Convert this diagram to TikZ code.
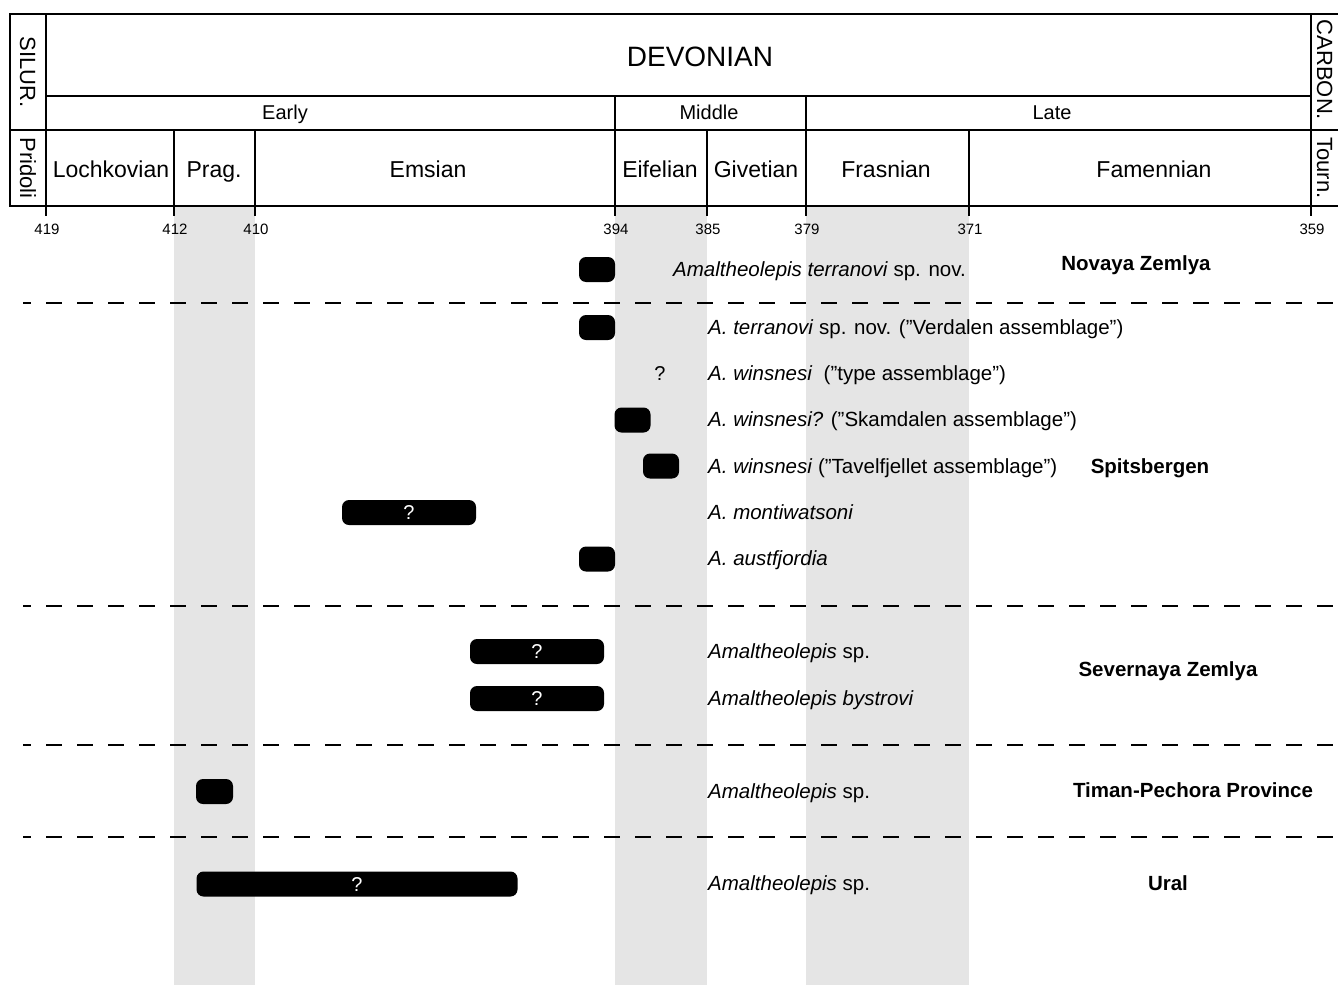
\documentclass[tikz,border=0pt]{standalone}
\usepackage{fontspec}
\setmainfont{Liberation Sans}
\begin{document}
\begin{tikzpicture}[
        x=1pt, y=-1pt,
        frame/.style={line width=2.6pt},
        band/.style={fill=gray!20, draw=none},
        stage/.style={font=\fontsize{23}{26}\selectfont, inner sep=0pt, text height=16.5pt, text depth=0pt},
        period/.style={font=\fontsize{28}{32}\selectfont, inner sep=0pt, text height=20pt, text depth=0pt},
        epoch/.style={font=\fontsize{20}{23}\selectfont, inner sep=0pt, text height=14.3pt, text depth=0pt},
        sidelabel/.style={font=\fontsize{22}{25}\selectfont, rotate=-90, inner sep=0pt, text height=15.8pt, text depth=0pt},
        agelabel/.style={font=\fontsize{15}{17}\selectfont, inner sep=0pt, text height=10.7pt, text depth=0pt},
        taxon/.style={font=\fontsize{20.5}{23}\selectfont, anchor=west, inner sep=0pt, text height=14.7pt, text depth=0pt},
        region/.style={font=\fontsize{20.5}{23}\selectfont\bfseries, inner sep=0pt, text height=14.7pt, text depth=0pt},
        rangebar/.style={rectangle, fill=black, rounded corners=7pt, minimum height=25pt, inner sep=0pt, text=white, font=\fontsize{20}{23}\selectfont, text height=14.3pt, text depth=0pt},
        divider/.style={line width=2.8pt, dash pattern=on 16pt off 15pt, dash phase=8pt}
    ]
        \useasboundingbox (0,0) rectangle (1338,985);

        % grey bands for Pragian, Middle Devonian and Frasnian
        \fill[band] (174,206) rectangle (255,985);
        \fill[band] (615,206) rectangle (707,985);
        \fill[band] (806,206) rectangle (969,985);

        % Time scale frame
        \draw[frame] (10,14) rectangle (1350,206);
        \draw[frame] (46,14) -- (46,216);
        \draw[frame] (1311,14) -- (1311,216);
        \draw[frame] (46,96) -- (1311,96);
        \draw[frame] (10,130) -- (1350,130);
        \draw[frame] (615,96) -- (615,216);
        \draw[frame] (806,96) -- (806,216);
        \draw[frame] (174,130) -- (174,216);
        \draw[frame] (255,130) -- (255,216);
        \draw[frame] (707,130) -- (707,216);
        \draw[frame] (969,130) -- (969,216);

        \node[period] (devonian) at (700,56) {DEVONIAN};
        \node[epoch] (early) at (285,112) {Early};
        \node[epoch] (middle) at (709,112) {Middle};
        \node[epoch] (late) at (1052,112) {Late};
        \node[sidelabel] (silur) at (28,72) {SILUR.};
        \node[sidelabel] (pridoli) at (28,168) {Pridoli};
        \node[sidelabel] (carbon) at (1325,70) {CARBON.};
        \node[sidelabel] (tourn) at (1325,168) {Tourn.};

        \node[stage] (lochkovian) at (111,169) {Lochkovian};
        \node[stage] (pragian) at (214,169) {Prag.};
        \node[stage] (emsian) at (428,169) {Emsian};
        \node[stage] (eifelian) at (660,169) {Eifelian};
        \node[stage] (givetian) at (756,169) {Givetian};
        \node[stage] (frasnian) at (886,169) {Frasnian};
        \node[stage] (famennian) at (1154,169) {Famennian};

        % Ages in Ma
        \node[agelabel] (age419) at (47,229) {419};
        \node[agelabel] (age412) at (175,229) {412};
        \node[agelabel] (age410) at (256,229) {410};
        \node[agelabel] (age394) at (616,229) {394};
        \node[agelabel] (age385) at (708,229) {385};
        \node[agelabel] (age379) at (807,229) {379};
        \node[agelabel] (age371) at (970,229) {371};
        \node[agelabel] (age359) at (1312,229) {359};

        % Regions separated by dashed lines
        \coordinate (sep1_l) at (23,303);  \coordinate (sep1_r) at (1345,303);
        \coordinate (sep2_l) at (23,606);  \coordinate (sep2_r) at (1345,606);
        \coordinate (sep3_l) at (23,745);  \coordinate (sep3_r) at (1345,745);
        \coordinate (sep4_l) at (23,837);  \coordinate (sep4_r) at (1345,837);
        \draw[divider] (sep1_l) -- (sep1_r);
        \draw[divider] (sep2_l) -- (sep2_r);
        \draw[divider] (sep3_l) -- (sep3_r);
        \draw[divider] (sep4_l) -- (sep4_r);

        % Novaya Zemlya
        \node[rangebar, minimum width=36pt] (nz_bar) at (597,269.5) {};
        \node[taxon] (nz_terranovi) at (673,269) {\textit{Amaltheolepis terranovi} sp. nov.};
        \node[region] (nz) at (1136,263) {Novaya Zemlya};

        % Spitsbergen
        \node[rangebar, minimum width=36pt] (sb_verdalen_bar) at (597,327.5) {};
        \node[taxon] (sb_verdalen) at (708,327) {\textit{A. terranovi} sp. nov. (”Verdalen assemblage”)};
        \node[font=\fontsize{20}{23}\selectfont, inner sep=0pt, text height=14.3pt, text depth=0pt] (sb_type_q) at (660,373) {?};
        \node[taxon] (sb_type) at (708,373) {\textit{A. winsnesi}\ \ (”type assemblage”)};
        \node[rangebar, minimum width=36pt] (sb_skamdalen_bar) at (632.5,420) {};
        \node[taxon] (sb_skamdalen) at (708,419) {\textit{A. winsnesi?} (”Skamdalen assemblage”)};
        \node[rangebar, minimum width=36pt] (sb_tavel_bar) at (661,466) {};
        \node[taxon] (sb_tavel) at (708,466) {\textit{A. winsnesi} (”Tavelfjellet assemblage”)};
        \node[rangebar, minimum width=134pt] (sb_monti_bar) at (409,512.5) {?};
        \node[taxon] (sb_monti) at (708,512) {\textit{A. montiwatsoni}};
        \node[rangebar, minimum width=36pt] (sb_aust_bar) at (597,559) {};
        \node[taxon] (sb_aust) at (708,558) {\textit{A. austfjordia}};
        \node[region] (sb) at (1150,466) {Spitsbergen};

        % Severnaya Zemlya
        \node[rangebar, minimum width=134pt] (sz_sp_bar) at (537,651.5) {?};
        \node[taxon] (sz_sp) at (708,651) {\textit{Amaltheolepis} sp.};
        \node[rangebar, minimum width=134pt] (sz_bys_bar) at (537,698.5) {?};
        \node[taxon] (sz_bys) at (708,698) {\textit{Amaltheolepis bystrovi}};
        \node[region] (sz) at (1168,669) {Severnaya Zemlya};

        % Timan-Pechora Province
        \node[rangebar, minimum width=37pt] (tp_bar) at (214.5,791.5) {};
        \node[taxon] (tp_sp) at (708,791) {\textit{Amaltheolepis} sp.};
        \node[region] (tp) at (1193,790) {Timan-Pechora Province};

        % Ural
        \node[rangebar, minimum width=321pt] (ur_bar) at (357,884) {?};
        \node[taxon] (ur_sp) at (708,883) {\textit{Amaltheolepis} sp.};
        \node[region] (ur) at (1168,883) {Ural};
    \end{tikzpicture}
\end{document}
